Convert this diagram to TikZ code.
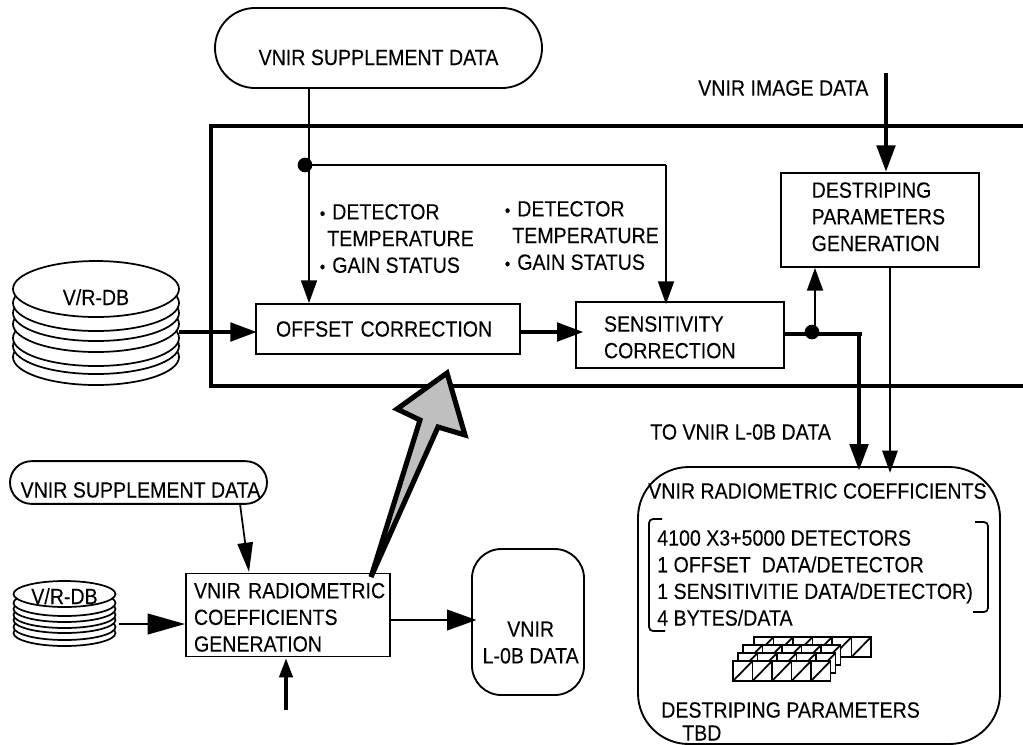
\documentclass[tikz,border=0pt]{standalone}
\usepackage{fontspec}
\setmainfont[FakeStretch=0.89,FakeBold=0.15]{Liberation Sans}
\usetikzlibrary{arrows.meta,calc,shapes.geometric}
\newcommand{\dotitem}{\llap{{\fontsize{13}{13}\selectfont\textbullet}\kern1.5pt}\hspace*{3.75pt}}
\newcommand{\lowfirst}{\rule{0pt}{15pt}}
\newcommand{\lowtext}[2]{\raisebox{-#1}[0pt][0pt]{#2}}

\tikzset{
  every node/.style={font=\fontsize{16.5}{20}\selectfont,inner sep=0pt},
  wire/.style={line width=1.3pt,-{Triangle[length=22pt,width=15.5pt]}},
  heavywire/.style={line width=3.7pt,-{Triangle[length=20pt,width=13.5pt]}},
  thinwire/.style={line width=1.3pt,-{Triangle[length=17pt,width=12pt]}},
  procbox/.style={draw,line width=1.4pt,align=left},
  databox/.style={draw,line width=1.4pt,rounded corners=#1,align=center},
  txt/.style={anchor=west,align=left},
  disc/.style={draw,line width=1.3pt,fill=white,ellipse},
  junction/.style={circle,fill=black,minimum size=11pt}
}

\begin{document}
\begin{tikzpicture}[x=0.75pt,y=-0.75pt]
    \useasboundingbox (0,0) rectangle (1023,744);

    % frame
    \draw [line width=3.6pt,miter limit=10] (1023,126) -- (211,126) -- (211,386) -- (1023,386);

    % disc stacks
    \foreach \yy in {357,346,338,324,313,303}
        \node [disc,minimum width=124.5pt,minimum height=42pt] at (96,\yy) {};
    \node [disc,minimum width=124.5pt,minimum height=42pt] (bigdb) at (96,289) {\lowtext{12pt}{V/R-DB}};
    \foreach \yy in {633,627,620,615,609,603}
        \node [disc,minimum width=76.5pt,minimum height=19.5pt] at (64.5,\yy) {};
    \node [disc,minimum width=76.5pt,minimum height=19.5pt] (smalldb) at (64.5,594) {\lowtext{7.5pt}{V/R-DB}};

    % data stores
    \node [databox=30pt,minimum width=245.25pt,minimum height=60pt] (topsupp) at (378.5,48) {\lowtext{12.75pt}{VNIR SUPPLEMENT DATA}};
    \node [databox=16pt,minimum width=192.75pt,minimum height=32pt] (lowsupp) at (138.5,482.5) {\lowtext{11.25pt}{\hspace{3pt}VNIR SUPPLEMENT DATA}};
    \node [databox=22pt,minimum width=84pt,minimum height=109.5pt] (l0b) at (528,622) {\lowtext{31pt}{\hspace{4pt}\shortstack{VNIR\\[5.5pt]L-0B DATA}}};
    \node [draw,line width=1.4pt,rounded corners=38pt,minimum width=271.5pt,minimum height=207.75pt] (coef) at (819,605.5) {};

    % process boxes
    \node [procbox,minimum width=198pt,minimum height=37.5pt,text width=168pt] (offset) at (388,329) {OFFSET CORRECTION};
    \node [procbox,minimum width=156pt,minimum height=49.5pt,text width=114pt] (sens) at (680,335) {\lowfirst SENSITIVITY\\CORRECTION};
    \node [procbox,minimum width=148.5pt,minimum height=70.5pt,text width=102.5pt] (destr) at (880,220) {DESTRIPING\\PARAMETERS\\GENERATION\rule[-5pt]{0pt}{0pt}};
    \node [procbox,minimum width=153pt,minimum height=62.25pt,text width=141pt] (radgen) at (288,615) {\lowfirst\mbox{VNIR RADIOMETRIC}\\COEFFICIENTS\\GENERATION};

    % free ends and branch points
    \coordinate (j1) at (309,165);
    \coordinate (j2) at (666,165);
    \coordinate (dbout) at (179,332);
    \coordinate (offout) at (520,332);
    \coordinate (j3) at (815,334);
    \coordinate (bend) at (859,334);
    \coordinate (imgin) at (886,73);
    \coordinate (lowout) at (240,504);
    \coordinate (lowin) at (249,572);
    \coordinate (smallout) at (119,624);
    \coordinate (upin) at (286,710);
    \coordinate (genout) at (390,620);
    \coordinate (destrout) at (890,267);

    % connectors
    \draw [line width=1.3pt] (topsupp.south -| j1) -- (j1);
    \draw [thinwire] (j1) -- (j1 |- offset.north);
    \draw [line width=1.3pt] (j1) -- (j2);
    \draw [thinwire] (j2) -- ($(j2 |- sens.north)+(0,3)$);
    \node [junction] (dot1) at (305,165) {};
    \draw [heavywire,shorten >=-1.5pt] (dbout) -- (dbout -| offset.west);
    \draw [heavywire,shorten >=-6.5pt] (offout) -- (offout -| sens.west);
    \draw [line width=3.7pt] (bend -| sens.east) -- ($(bend)+(2.5,0)$);
    \draw [heavywire,shorten >=-3.5pt] (bend) -- (bend |- coef.north);
    \draw [thinwire] (j3) -- (j3 |- destr.south);
    \node [junction] (dot2) at (812,332) {};
    \draw [line width=1.3pt,-{Triangle[length=16.5pt,width=11.5pt]},shorten >=-5pt] (destrout) -- (destrout |- coef.north);
    \draw [heavywire] (imgin) -- (imgin |- destr.north);
    \draw [line width=1.3pt,-{Triangle[length=22pt,width=11.5pt]}] (lowout) -- (lowin);
    \draw [line width=1.3pt,-{Triangle[length=28pt,width=15.5pt]}] (smallout) -- (smallout -| radgen.west);
    \draw [line width=3.7pt,-{Triangle[length=15pt,width=9.5pt]}] (upin) -- (upin |- radgen.south);
    \draw [wire,shorten >=-4pt] (genout) -- (genout -| l0b.west);

    % big grey arrow
    \draw [line width=3.8pt,fill=black!25,miter limit=10] (371,577) -- (420,420) -- (397,409) -- (447,373) -- (465,435) -- (438,427) -- cycle;

    % labels
    \node [txt] (imglabel) at (698,88) {VNIR IMAGE DATA};
    \node [txt] (tolabel) at (650,432) {TO VNIR L-0B DATA};
    \node [txt] (det1) at (327,238.5) {\dotitem DETECTOR\\TEMPERATURE\\\dotitem GAIN STATUS};
    \node [txt] (det2) at (512,235.5) {\dotitem DETECTOR\\TEMPERATURE\\\dotitem GAIN STATUS};

    % inside the coefficient store
    \node [txt] (coeftitle) at (648,491) {VNIR RADIOMETRIC COEFFICIENTS};
    \node [txt] (coeflist) at (657,578) {4100 X3+5000 DETECTORS\\1 OFFSET\ \ DATA/DETECTOR\\1 SENSITIVITIE DATA/DETECTOR)\\4 BYTES/DATA};
    \node [txt] (dstitle) at (661,710) {DESTRIPING PARAMETERS};
    \node [txt] (tbd) at (682,733) {TBD};

    % brackets
    \draw [line width=1.3pt,rounded corners=3pt] (662,519) -- (649,519) -- (649,631) -- (665,631);
    \draw [line width=1.3pt,rounded corners=3pt] (975,522) -- (988,522) -- (988,612) -- (973,612);

    % parameter cells
    \foreach \xo/\yo/\cnt in {754/637/6,743/645/5,738/653/5,733/661/5} {
        \foreach \i in {1,...,\cnt} {
            \draw [line width=1.3pt,fill=white] (\xo+\i*19.5-19.5,\yo) rectangle (\xo+\i*19.5,\yo+20);
            \draw [line width=1.3pt] (\xo+\i*19.5-19.5,\yo+20) -- (\xo+\i*19.5,\yo);
        }
    }
\end{tikzpicture}
\end{document}
